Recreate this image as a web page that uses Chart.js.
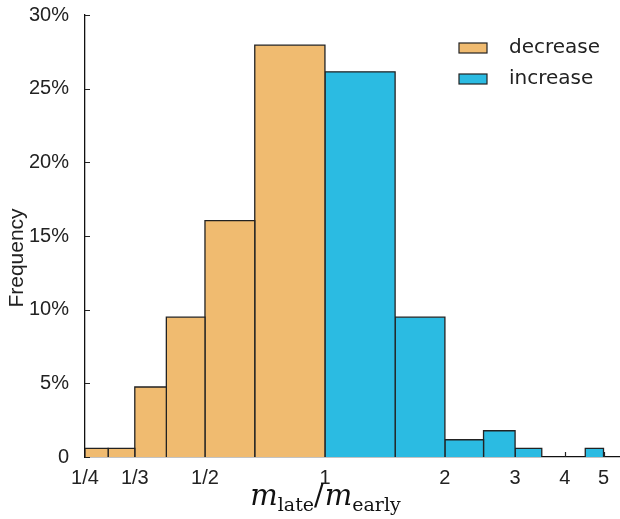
<!DOCTYPE html>
<html>
<head>
<meta charset="utf-8">
<script src="https://cdn.jsdelivr.net/npm/chart.js@4.4.0/dist/chart.umd.min.js"></script>
<style>
  html, body { margin: 0; padding: 0; background: #fff; }
  #wrap { width: 620px; height: 519px; }
</style>
</head>
<body>
<div id="wrap"><canvas id="myChart" width="620" height="519"></canvas></div>
<script>
// bin edges of m_late / m_early (log spaced histogram)
const decreaseEdges = [1/4, 2/7, 1/3, 2/5, 1/2, 2/3, 1];
const decreaseFreq = [0.58, 0.58, 4.75, 9.49, 16.05, 27.95];
const increaseEdges = [1, 3/2, 2, 5/2, 3, 7/2, 4, 9/2, 5];
const increaseFreq = [26.14, 9.49, 1.17, 1.78, 0.58, 0, 0, 0.58];

const xTickValues = [1/4, 1/3, 1/2, 1, 2, 3, 4, 5];
const xTickLabels = ['1/4', '1/3', '1/2', '1', '2', '3', '4', '5'];
const yTickValues = [0, 5, 10, 15, 20, 25, 30];

const seriesNames = ['decrease', 'increase'];
const seriesColors = ['#F0BB70', '#2BBBE2'];

function barDatasets(edges, freq, color) {
  const out = [];
  for (let i = 0; i < freq.length; i++) {
    if (!freq[i]) continue;
    out.push({
      data: [
        {x: edges[i], y: 0},
        {x: edges[i], y: freq[i]},
        {x: edges[i + 1], y: freq[i]},
        {x: edges[i + 1], y: 0}
      ],
      backgroundColor: color,
      borderColor: '#222',
      borderWidth: 1.3,
      fill: 'origin',
      pointRadius: 0,
      tension: 0
    });
  }
  return out;
}

const datasets = barDatasets(decreaseEdges, decreaseFreq, seriesColors[0])
  .concat(barDatasets(increaseEdges, increaseFreq, seriesColors[1]));

// inward tick marks, drawn under the bars
const innerTicks = {
  id: 'innerTicks',
  beforeDatasetsDraw(chart) {
    const ctx = chart.ctx;
    const xs = chart.scales.x, ys = chart.scales.y;
    ctx.save();
    ctx.strokeStyle = '#222';
    ctx.lineWidth = 1.2;
    ctx.beginPath();
    xTickValues.forEach(v => {
      const px = Math.round(xs.getPixelForValue(v)) + 0.5;
      ctx.moveTo(px, ys.bottom);
      ctx.lineTo(px, ys.bottom - 5);
    });
    yTickValues.forEach(v => {
      const py = Math.round(ys.getPixelForValue(v)) + 0.5;
      ctx.moveTo(xs.left, py);
      ctx.lineTo(xs.left + 5, py);
    });
    ctx.stroke();
    ctx.restore();
  }
};

const overlay = {
  id: 'overlay',
  afterDraw(chart) {
    const ctx = chart.ctx;
    const area = chart.chartArea;
    ctx.save();
    // legend
    ctx.font = '20px "DejaVu Sans"';
    ctx.textBaseline = 'middle';
    ctx.textAlign = 'left';
    seriesNames.forEach((name, i) => {
      const bx = area.right - 161;
      const by = area.top + 28 + i * 31;
      ctx.fillStyle = seriesColors[i];
      ctx.fillRect(bx, by, 28, 10);
      ctx.strokeStyle = '#222';
      ctx.lineWidth = 1.2;
      ctx.strokeRect(bx, by, 28, 10);
      ctx.fillStyle = '#222';
      ctx.fillText(name, bx + 50, by + 5);
    });
    // y axis title
    ctx.save();
    ctx.translate(17, 258);
    ctx.rotate(-Math.PI / 2);
    ctx.textAlign = 'center';
    ctx.font = '21px "Liberation Sans"';
    ctx.fillText('Frequency', 0, 0);
    ctx.restore();
    // x axis title: m_late / m_early
    const big = 'italic 29px "DejaVu Serif"';
    const up = '29px "DejaVu Serif"';
    const sub = '19px "DejaVu Serif"';
    const parts = [
      [big, 'm', 0], [sub, 'late', 6], [up, '/', 0], [big, 'm', 0], [sub, 'early', 6]
    ];
    let w = 0;
    parts.forEach(p => { ctx.font = p[0]; w += ctx.measureText(p[1]).width; });
    let x = 325 - w / 2;
    const base = 505;
    ctx.textBaseline = 'alphabetic';
    ctx.textAlign = 'left';
    ctx.fillStyle = '#111';
    parts.forEach(p => {
      ctx.font = p[0];
      ctx.fillText(p[1], x, base + p[2]);
      x += ctx.measureText(p[1]).width + (p[1] === '/' ? 1 : 0);
    });
    ctx.restore();
  }
};

const config = {
  type: 'line',
  data: { datasets },
  options: {
    responsive: false,
    animation: false,
    layout: { padding: { top: 15, right: 0, left: 0, bottom: 0 } },
    plugins: {
      legend: { display: false },
      tooltip: { enabled: false }
    },
    scales: {
      x: {
        type: 'logarithmic',
        min: 0.25,
        max: 5.5,
        afterBuildTicks: (scale) => { scale.ticks = xTickValues.map(v => ({value: v})); },
        afterFit: (scale) => {
          scale.height = 62;
          scale.paddingLeft = 0;
          scale.paddingRight = 0;
        },
        ticks: {
          autoSkip: false,
          maxRotation: 0,
          padding: 1,
          color: '#222',
          font: { family: '"Liberation Sans"', size: 20 },
          callback: (v, i) => xTickLabels[i]
        },
        grid: { display: false },
        border: { display: true, color: '#111', width: 1.3 }
      },
      y: {
        min: 0,
        max: 30,
        afterBuildTicks: (scale) => { scale.ticks = yTickValues.map(v => ({value: v})); },
        afterFit: (scale) => {
          scale.width = 85;
          scale.paddingTop = 0;
          scale.paddingBottom = 0;
        },
        ticks: {
          padding: 8,
          color: '#222',
          font: { family: '"Liberation Sans"', size: 20 },
          callback: (v) => v === 0 ? '0' : v + '%'
        },
        grid: { display: false },
        border: { display: true, color: '#111', width: 1.3 }
      }
    }
  },
  plugins: [innerTicks, overlay]
};

const myChart = new Chart(document.getElementById('myChart'), config);
</script>
</body>
</html>
